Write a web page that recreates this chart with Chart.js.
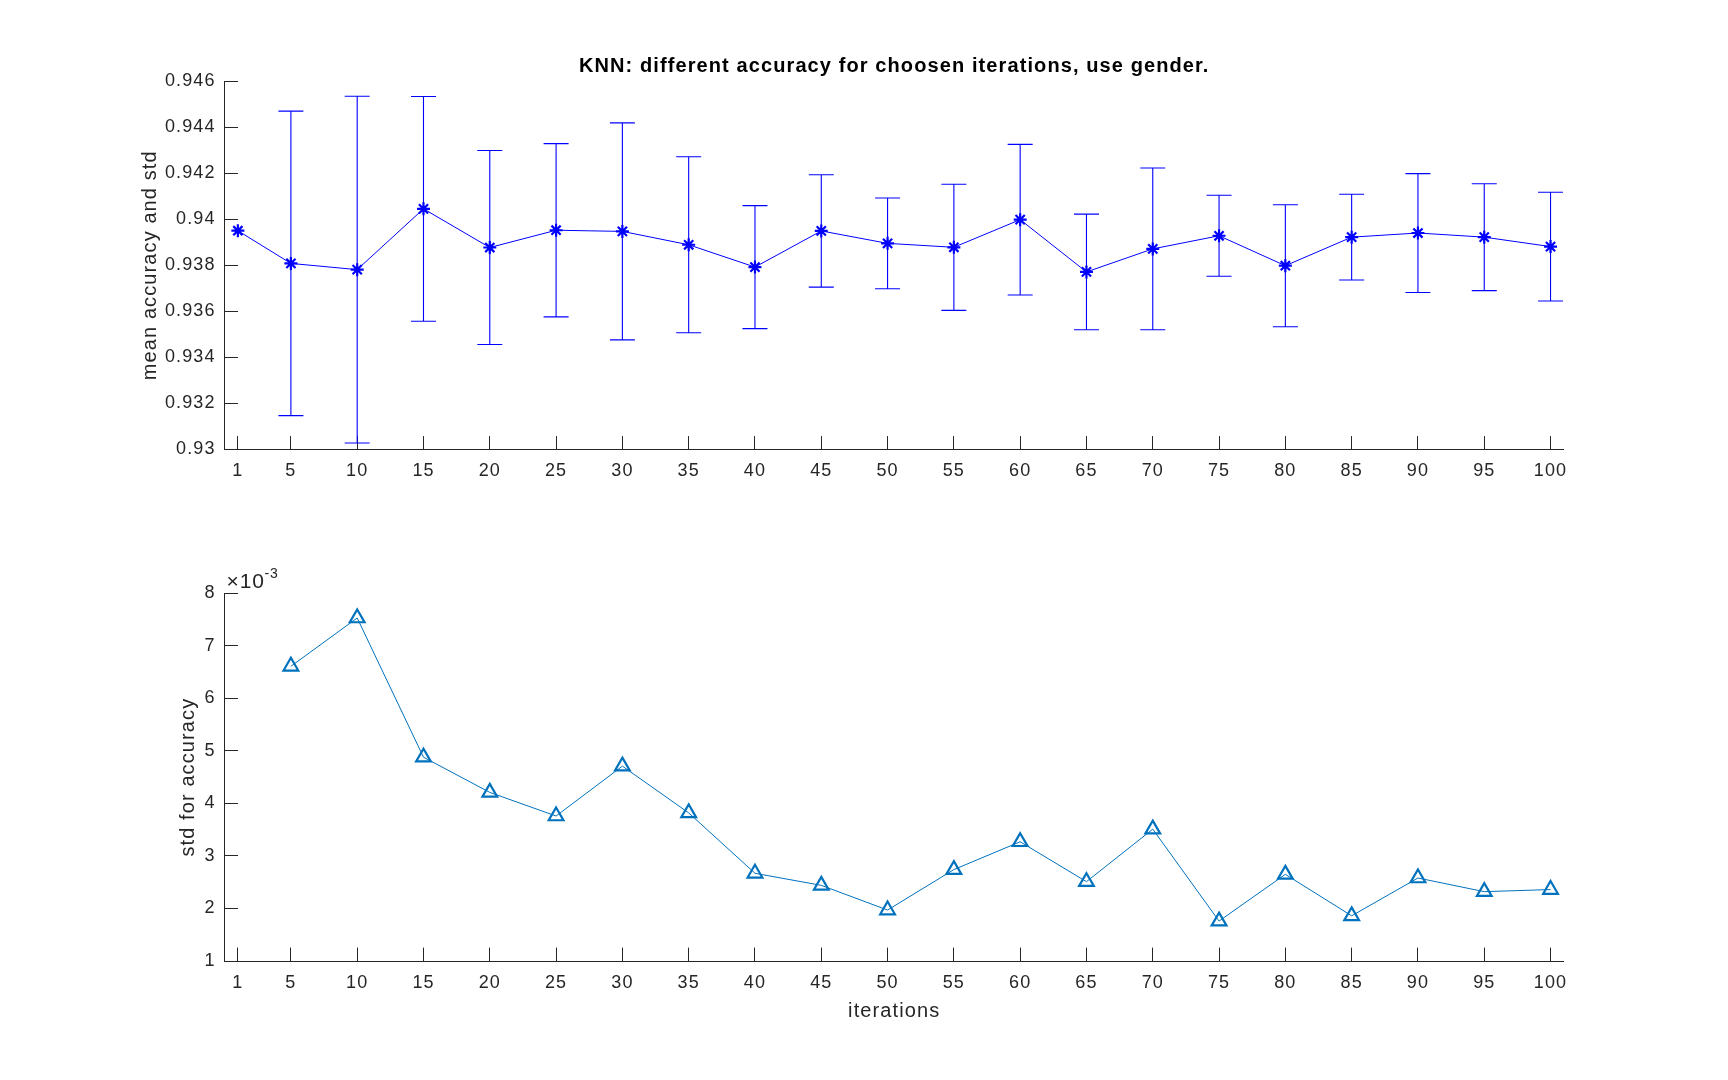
<!DOCTYPE html>
<html><head><meta charset="utf-8">
<script src="https://cdn.jsdelivr.net/npm/chart.js@4"></script>
<style>
html,body{margin:0;padding:0;background:#fff;}
#wrap{position:relative;width:1728px;height:1080px;background:#fff;}
canvas{position:absolute;left:0;}
</style></head><body>
<div id="wrap">
<canvas id="c1" width="1728" height="540" style="top:0px"></canvas>
<canvas id="c2" width="1728" height="540" style="top:540px"></canvas>
</div>
<script>
// ---- data ----
const iterations = [1,5,10,15,20,25,30,35,40,45,50,55,60,65,70,75,80,85,90,95,100];
const meanAcc = [0.93950,0.93808,0.93781,0.94045,0.93877,0.93952,0.93947,0.93889,0.93792,0.93949,
                 0.93895,0.93878,0.93998,0.93771,0.93871,0.93928,0.93798,0.93922,0.93940,0.93922,0.93881];
// std of accuracy, in units of 1e-3 (no value for 1 iteration)
const stdAccE3 = [null,6.61,7.53,4.88,4.21,3.76,4.71,3.82,2.67,2.44,
                  1.97,2.74,3.27,2.51,3.51,1.76,2.65,1.86,2.58,2.32,2.36];
const xTicks = [1,5,10,15,20,25,30,35,40,45,50,55,60,65,70,75,80,85,90,95,100];
const yTicksTop = [0.930,0.932,0.934,0.936,0.938,0.940,0.942,0.944,0.946];
const yTicksBottom = [1,2,3,4,5,6,7,8];
const titleText = 'KNN: different accuracy for choosen iterations, use gender.';
const yLabelTop = 'mean accuracy and std';
const yLabelBottom = 'std for accuracy';
const xLabelBottom = 'iterations';

// ---- style / layout ----
const FONT = '"Liberation Sans", Arial, Helvetica, sans-serif';
const LS = '1.1px';
const AXIS = '#262626';
const AX_LEFT = 224.6, AX_RIGHT = 1563.8;
const TICK = 13.4;
const CAP = 12.5;
const TICK_FONT = 18;

const spacing = {
  id: 'spacing',
  beforeUpdate(c){ c.ctx.letterSpacing = LS; },
  beforeLayout(c){ c.ctx.letterSpacing = LS; },
  beforeDraw(c){ c.ctx.letterSpacing = LS; }
};

const errorBars = {
  id: 'errorBars',
  beforeDatasetsDraw(chart){
    const {ctx, scales:{x, y}} = chart;
    ctx.save();
    ctx.strokeStyle = '#0000FF';
    ctx.lineWidth = 1.1;
    iterations.forEach((it, i) => {
      const s = stdAccE3[i];
      if (s == null) return;
      const px = x.getPixelForValue(it);
      const pt = y.getPixelForValue(meanAcc[i] + s * 1e-3);
      const pb = y.getPixelForValue(meanAcc[i] - s * 1e-3);
      ctx.beginPath();
      ctx.moveTo(px, pt); ctx.lineTo(px, pb);
      ctx.moveTo(px - CAP, pt); ctx.lineTo(px + CAP, pt);
      ctx.moveTo(px - CAP, pb); ctx.lineTo(px + CAP, pb);
      ctx.stroke();
    });
    ctx.restore();
  }
};

const exponent = {
  id: 'exponent',
  afterDraw(chart){
    const {ctx, chartArea} = chart;
    ctx.save();
    ctx.letterSpacing = '0.8px';
    ctx.fillStyle = AXIS;
    ctx.textBaseline = 'alphabetic';
    ctx.textAlign = 'left';
    ctx.font = '21px ' + FONT;
    const x0 = chartArea.left + 2, y0 = chartArea.top - 5;
    ctx.fillText('\u00d710', x0, y0);
    const w = ctx.measureText('\u00d710').width;
    ctx.font = '14px ' + FONT;
    ctx.fillText('-3', x0 + w, y0 - 10);
    ctx.restore();
  }
};

function axisCommon(){
  return {
    grid: {drawOnChartArea:false, drawTicks:true, tickLength:-TICK, color:AXIS, lineWidth:1},
    border: {display:true, color:AXIS, width:1}
  };
}

// ---- top chart ----
new Chart(document.getElementById('c1'), {
  type: 'line',
  data: {
    datasets: [{
      data: iterations.map((v, i) => ({x: v, y: meanAcc[i]})),
      borderColor: '#0000FF',
      backgroundColor: '#0000FF',
      borderWidth: 1,
      pointStyle: 'star',
      pointRadius: 6.5,
      pointBorderWidth: 2.2,
      pointBorderColor: '#0000FF',
      tension: 0,
      clip: false
    }]
  },
  options: {
    responsive: false, animation: false, devicePixelRatio: 1,
    layout: {padding: {left: 0, right: 1728 - AX_RIGHT, top: 0, bottom: 0}},
    plugins: {
      legend: {display: false}, tooltip: {enabled: false},
      title: {display: true, text: titleText, color: '#000', fullSize: false,
              font: {family: FONT, size: 20, weight: 'bold'},
              padding: {top: 54.5, bottom: 2.5}}
    },
    scales: {
      x: Object.assign(axisCommon(), {
        type: 'linear', position: 'bottom', min: 0, max: 101,
        afterBuildTicks(s){ s.ticks = xTicks.map(v => ({value: v})); },
        afterFit(s){ s.height = 540 - 449.5; },
        ticks: {autoSkip: false, maxRotation: 0, minRotation: 0, padding: 24.3, color: AXIS,
                font: {family: FONT, size: TICK_FONT}, callback: v => String(v)}
      }),
      y: Object.assign(axisCommon(), {
        type: 'linear', position: 'left', min: 0.93, max: 0.946,
        afterBuildTicks(s){ s.ticks = yTicksTop.map(v => ({value: v})); },
        afterFit(s){ s.width = AX_LEFT; },
        ticks: {padding: 22.5, color: AXIS, font: {family: FONT, size: TICK_FONT},
                callback: v => String(Number(v.toFixed(3)))},
        title: {display: true, text: yLabelTop, color: AXIS,
                font: {family: FONT, size: 20}, padding: {top: 138, bottom: 0}}
      })
    }
  },
  plugins: [spacing, errorBars]
});

// ---- bottom chart ----
new Chart(document.getElementById('c2'), {
  type: 'line',
  data: {
    datasets: [{
      data: iterations.map((v, i) => ({x: v, y: stdAccE3[i]})),
      borderColor: '#0072BD',
      backgroundColor: 'rgba(0,0,0,0)',
      borderWidth: 1,
      pointStyle: 'triangle',
      pointRadius: 8.5,
      pointBorderWidth: 2.2,
      pointBorderColor: '#0072BD',
      pointBackgroundColor: 'rgba(0,0,0,0)',
      tension: 0,
      spanGaps: false,
      clip: false
    }]
  },
  options: {
    responsive: false, animation: false, devicePixelRatio: 1,
    layout: {padding: {left: 0, right: 1728 - AX_RIGHT, top: 593.3 - 540, bottom: 0}},
    plugins: {legend: {display: false}, tooltip: {enabled: false}, title: {display: false}},
    scales: {
      x: Object.assign(axisCommon(), {
        type: 'linear', position: 'bottom', min: 0, max: 101,
        afterBuildTicks(s){ s.ticks = xTicks.map(v => ({value: v})); },
        afterFit(s){ s.height = 540 - 421; },
        ticks: {autoSkip: false, maxRotation: 0, minRotation: 0, padding: 24.3, color: AXIS,
                font: {family: FONT, size: TICK_FONT}, callback: v => String(v)},
        title: {display: true, text: xLabelBottom, color: AXIS,
                font: {family: FONT, size: 20}, padding: {top: 0, bottom: 56.3}}
      }),
      y: Object.assign(axisCommon(), {
        type: 'linear', position: 'left', min: 1, max: 8,
        afterBuildTicks(s){ s.ticks = yTicksBottom.map(v => ({value: v})); },
        afterFit(s){ s.width = AX_LEFT; },
        ticks: {padding: 22.5, color: AXIS, font: {family: FONT, size: TICK_FONT},
                callback: v => String(v)},
        title: {display: true, text: yLabelBottom, color: AXIS,
                font: {family: FONT, size: 20}, padding: {top: 176, bottom: 0}}
      })
    }
  },
  plugins: [spacing, exponent]
});
</script>
</body></html>
